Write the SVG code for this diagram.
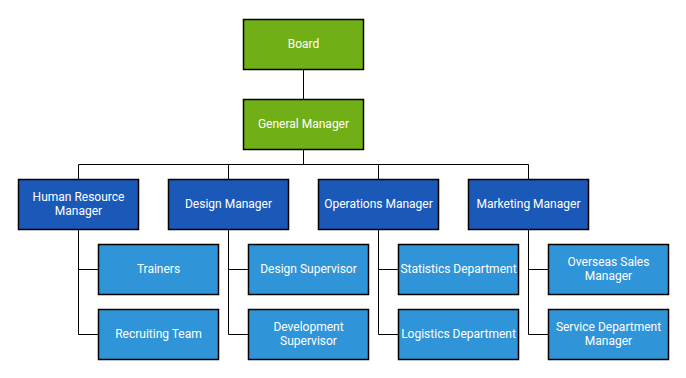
<svg xmlns="http://www.w3.org/2000/svg" width="686" height="378" viewBox="0 0 686 378">
<style>
rect{stroke:#000;stroke-width:1.5}
.g{fill:#71AF17}
.d{fill:#1A59B8}
.l{fill:#3094D8}
text{font-family:Roboto,"Liberation Sans",sans-serif;font-size:12px;fill:#fff;text-anchor:middle;dominant-baseline:central}
.c{fill:none;stroke:#000;stroke-width:1}
</style>
<rect width="686" height="378" fill="#fff" style="stroke:none"/>
<g id="connectors" class="c">
<path d="M303.5 69.5V99.5"/>
<path d="M303.5 149.5V164.5M78.5 164.5H528.5M78.5 164.5V179.5M228.5 164.5V179.5M378.5 164.5V179.5M528.5 164.5V179.5"/>
<path d="M78.5 229.5V334.5M78.5 269.5H98.5M78.5 334.5H98.5"/>
<path d="M228.5 229.5V334.5M228.5 269.5H248.5M228.5 334.5H248.5"/>
<path d="M378.5 229.5V334.5M378.5 269.5H398.5M378.5 334.5H398.5"/>
<path d="M528.5 229.5V334.5M528.5 269.5H548.5M528.5 334.5H548.5"/>
</g>
<g id="board"><rect class="g" x="243.5" y="19.5" width="120" height="50"/><text x="303.5" y="43.5">Board</text></g>
<g id="gm"><rect class="g" x="243.5" y="99.5" width="120" height="50"/><text x="303.5" y="123.5">General Manager</text></g>
<g id="hr"><rect class="d" x="18.5" y="179.5" width="120" height="50"/><text x="78.5" y="196.5">Human Resource</text><text x="78.5" y="210.5">Manager</text></g>
<g id="design"><rect class="d" x="168.5" y="179.5" width="120" height="50"/><text x="228.5" y="203.5">Design Manager</text></g>
<g id="ops"><rect class="d" x="318.5" y="179.5" width="120" height="50"/><text x="378.5" y="203.5">Operations Manager</text></g>
<g id="marketing"><rect class="d" x="468.5" y="179.5" width="120" height="50"/><text x="528.5" y="203.5">Marketing Manager</text></g>
<g id="trainers"><rect class="l" x="98.5" y="244.5" width="120" height="50"/><text x="158.5" y="268.5">Trainers</text></g>
<g id="recruiting"><rect class="l" x="98.5" y="309.5" width="120" height="50"/><text x="158.5" y="333.5">Recruiting Team</text></g>
<g id="designsup"><rect class="l" x="248.5" y="244.5" width="120" height="50"/><text x="308.5" y="268.5">Design Supervisor</text></g>
<g id="devsup"><rect class="l" x="248.5" y="309.5" width="120" height="50"/><text x="308.5" y="326.5">Development</text><text x="308.5" y="340.5">Supervisor</text></g>
<g id="stats"><rect class="l" x="398.5" y="244.5" width="120" height="50"/><text x="458.5" y="268.5">Statistics Department</text></g>
<g id="logistics"><rect class="l" x="398.5" y="309.5" width="120" height="50"/><text x="458.5" y="333.5">Logistics Department</text></g>
<g id="overseas"><rect class="l" x="548.5" y="244.5" width="120" height="50"/><text x="608.5" y="261.5">Overseas Sales</text><text x="608.5" y="275.5">Manager</text></g>
<g id="service"><rect class="l" x="548.5" y="309.5" width="120" height="50"/><text x="608.5" y="326.5">Service Department</text><text x="608.5" y="340.5">Manager</text></g>
</svg>
